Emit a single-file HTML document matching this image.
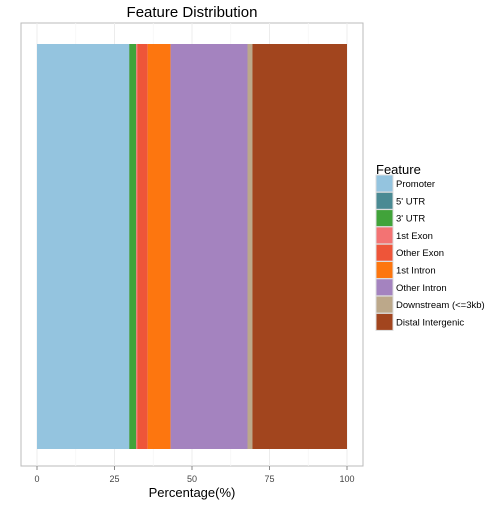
<!DOCTYPE html>
<html><head><meta charset="utf-8"><style>body{margin:0;background:#fff}svg{font-family:"Liberation Sans",sans-serif}</style></head>
<body>
<svg id="c" width="504" height="504">
<rect x="21" y="23" width="342" height="443" fill="#fff" stroke="#bbb" stroke-width="1"/>
<g id="grid"></g><g id="bars"></g><g id="axis"></g><g id="legend"></g>
<text x="192" y="17" font-size="15" text-anchor="middle">Feature Distribution</text>
<text x="192" y="497" font-size="13" text-anchor="middle">Percentage(%)</text>
<text x="376" y="174" font-size="13">Feature</text>
</svg>
<script>
const features=["Promoter","5' UTR","3' UTR","1st Exon","Other Exon","1st Intron","Other Intron","Downstream (<=3kb)","Distal Intergenic"];
const percents=[29.7,0.1,2.2,0.4,3.3,7.4,24.8,1.6,30.5];
const colors=["#94c4df","#4a8a93","#41a33a","#f37373","#ee5539","#fd760f","#a483bf","#bca88a","#a2451e"];
const ticks=[0,25,50,75,100];
const NS="http://www.w3.org/2000/svg";
const x=v=>37+v*3.1;
function mk(t,a,p){const e=document.createElementNS(NS,t);for(const k in a)e.setAttribute(k,a[k]);document.getElementById(p).appendChild(e);return e;}
ticks.forEach(t=>{
 const g=mk('line',{x1:x(t),x2:x(t),y1:23,y2:466,stroke:'#ececec','stroke-width':1},'grid');
 
 
 if(t<100){const m=mk('line',{x1:x(t+12.5),x2:x(t+12.5),y1:23,y2:466,stroke:'#f6f6f6','stroke-width':0.8},'grid');
 
 }
 const tk=mk('line',{x1:x(t),x2:x(t),y1:466,y2:470,stroke:'#888'},'axis');
 
 
 const l=mk('text',{x:x(t),y:482,'font-size':9,'text-anchor':'middle',fill:'#444'},'axis');
 l.textContent=t;
 
 
});
let cum=0;
percents.forEach((p,i)=>{
 const r=mk('rect',{x:x(cum),y:44,width:p*3.1,height:405,fill:colors[i]},'bars');
 
 
 cum+=p;
 const y=175+i*17.3;
 const k=mk('rect',{x:376,y:y,width:17,height:17,fill:colors[i],stroke:'#ddd','stroke-width':1},'legend');
 
 
 const t=mk('text',{x:396,y:y+12,'font-size':9.5},'legend');
 t.textContent=features[i];
 
 
});
</script>
</body></html>
